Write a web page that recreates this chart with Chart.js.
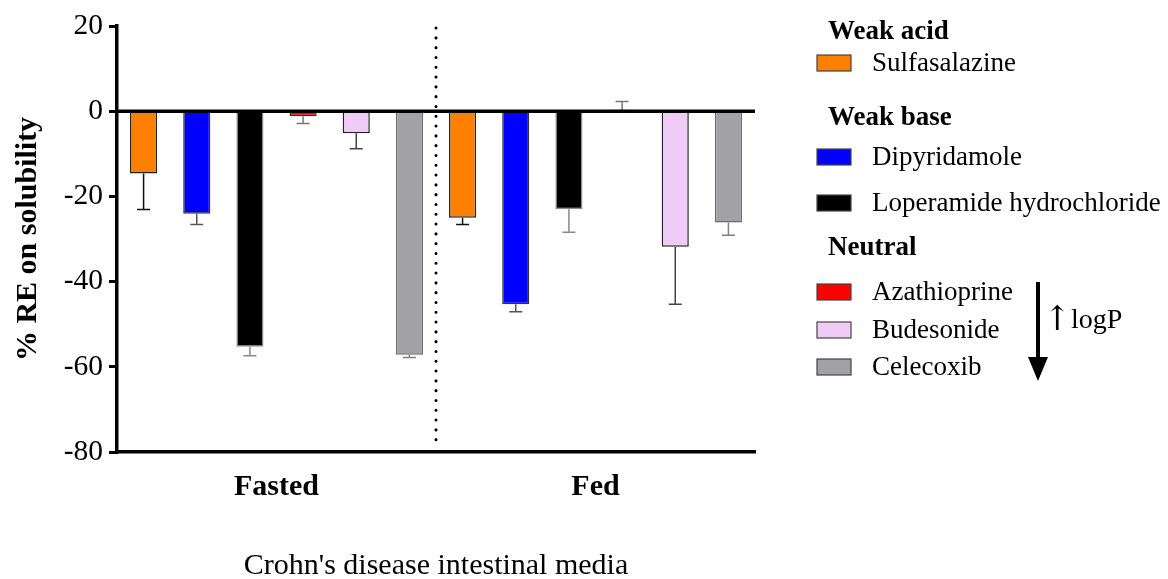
<!DOCTYPE html>
<html>
<head>
<meta charset="utf-8">
<script src="https://cdn.jsdelivr.net/npm/chart.js@4/dist/chart.umd.min.js"></script>
<style>
html,body{margin:0;padding:0;background:#fff;}
#wrap{width:1168px;height:579px;position:relative;}
</style>
</head>
<body>
<div id="wrap"><canvas id="c" width="1168" height="579"></canvas></div>
<script>
// ---- data ----
const categories = ['Fasted', 'Fed'];
const drugs = ['Sulfasalazine', 'Dipyridamole', 'Loperamide hydrochloride', 'Azathioprine', 'Budesonide', 'Celecoxib'];
const sulfasalazine = [-14.6, -25.0];
const dipyridamole  = [-24.1, -45.3];
const loperamide    = [-55.3, -23.0];
const azathioprine  = [-1.2, 0.3];
const budesonide    = [-5.2, -31.8];
const celecoxib     = [-57.2, -26.1];
const sulfasalazineErr = [8.5, 1.6];
const dipyridamoleErr  = [2.5, 1.8];
const loperamideErr    = [2.1, 5.4];
const azathioprineErr  = [1.7, 2.0];
const budesonideErr    = [3.6, 13.5];
const celecoxibErr     = [0.6, 3.0];
const yTicks = [-80, -60, -40, -20, 0, 20];
const groups = [
  {title: 'Weak acid', items: [0]},
  {title: 'Weak base', items: [1, 2]},
  {title: 'Neutral', items: [3, 4, 5]}
];

// ---- styles ----
const fills   = ['#FF8000', '#0000FF', '#000000', '#FF0000', '#EFCCF6', '#A2A1A6'];
const borders = ['#222222', '#333333', '#8a8a8a', '#333333', '#222222', '#6a6a6a'];
const errCols = ['#111111', '#555555', '#888888', '#777777', '#444444', '#808080'];
const values = [sulfasalazine, dipyridamole, loperamide, azathioprine, budesonide, celecoxib];
const errors = [sulfasalazineErr, dipyridamoleErr, loperamideErr, azathioprineErr, budesonideErr, celecoxibErr];

const SERIF = '"Liberation Serif", "Times New Roman", serif';

const datasets = drugs.map((name, i) => ({
  label: name,
  data: values[i],
  errors: errors[i],
  errColor: errCols[i],
  backgroundColor: fills[i],
  borderColor: borders[i],
  borderWidth: 1.5,
  categoryPercentage: 1.0,
  barPercentage: 0.51
}));

const errorBars = {
  id: 'errorBars',
  afterDatasetsDraw(chart) {
    const ctx = chart.ctx, y = chart.scales.y;
    chart.data.datasets.forEach((ds, di) => {
      const meta = chart.getDatasetMeta(di);
      meta.data.forEach((bar, i) => {
        const v = ds.data[i], e = ds.errors[i];
        const end = v >= 0 ? v + e : v - e;
        const y0 = y.getPixelForValue(v), y1 = y.getPixelForValue(end);
        ctx.save();
        ctx.strokeStyle = ds.errColor;
        ctx.lineWidth = 1.5;
        ctx.beginPath();
        ctx.moveTo(bar.x, y0); ctx.lineTo(bar.x, y1);
        ctx.moveTo(bar.x - 6.5, y1); ctx.lineTo(bar.x + 6.5, y1);
        ctx.stroke();
        ctx.restore();
      });
    });
  }
};

const overlay = {
  id: 'overlay',
  afterDatasetsDraw(chart) {
    const ctx = chart.ctx, a = chart.chartArea, x = chart.scales.x, y = chart.scales.y;
    ctx.save();
    // zero line
    const y0 = y.getPixelForValue(0);
    ctx.strokeStyle = '#000'; ctx.lineWidth = 3.5;
    ctx.beginPath(); ctx.moveTo(a.left, y0); ctx.lineTo(a.right, y0); ctx.stroke();
    // dotted separator
    const xm = (x.getPixelForValue(0) + x.getPixelForValue(1)) / 2;
    ctx.lineWidth = 3; ctx.lineCap = 'round';
    ctx.setLineDash([0.1, 9.7]);
    ctx.beginPath(); ctx.moveTo(xm, a.top + 2); ctx.lineTo(xm, a.bottom - 5); ctx.stroke();
    ctx.restore();
  },
  afterDraw(chart) {
    const ctx = chart.ctx;
    ctx.save();
    ctx.fillStyle = '#000';
    ctx.textBaseline = 'middle';
    const titleY = [32, 118, 248];
    const itemY = [[63], [157, 203], [292, 330, 367]];
    groups.forEach((g, gi) => {
      ctx.font = 'bold 27px ' + SERIF;
      ctx.fillStyle = '#000';
      ctx.fillText(g.title, 828, titleY[gi]);
      g.items.forEach((di, k) => {
        const cy = itemY[gi][k];
        ctx.fillStyle = fills[di];
        ctx.fillRect(817, cy - 8, 34, 16);
        ctx.strokeStyle = '#444'; ctx.lineWidth = 1.2;
        ctx.strokeRect(817, cy - 8, 34, 16);
        ctx.fillStyle = '#000';
        ctx.font = '27px ' + SERIF;
        ctx.fillText(drugs[di], 872, cy + 1);
      });
    });
    // logP arrow
    ctx.strokeStyle = '#000'; ctx.lineWidth = 4;
    ctx.beginPath(); ctx.moveTo(1038, 282); ctx.lineTo(1038, 360); ctx.stroke();
    ctx.beginPath(); ctx.moveTo(1028, 357); ctx.lineTo(1048, 357); ctx.lineTo(1038, 381); ctx.closePath(); ctx.fill();
    ctx.font = '34px "DejaVu Serif", serif';
    ctx.fillText('\u2191', 1043, 321);
    ctx.font = '28px ' + SERIF;
    ctx.fillText('logP', 1071, 321);
    ctx.restore();
  }
};

new Chart(document.getElementById('c'), {
  type: 'bar',
  data: { labels: categories, datasets },
  plugins: [errorBars, overlay],
  options: {
    responsive: false,
    animation: false,
    layout: { padding: { left: 0, right: 413, top: 26, bottom: 0 } },
    plugins: { legend: { display: false }, tooltip: { enabled: false } },
    scales: {
      x: {
        offset: true,
        grid: { display: false, drawTicks: false },
        border: { display: true, color: '#000', width: 3.5 },
        ticks: { color: '#000', font: { family: SERIF, size: 30, weight: 'bold' }, padding: 17 },
        title: { display: true, text: "Crohn's disease intestinal media", color: '#000',
                 font: { family: SERIF, size: 30, lineHeight: 1 }, padding: { top: 0, bottom: -2 } },
        afterFit(s) { s.height = 127; }
      },
      y: {
        min: -80, max: 20,
        afterBuildTicks(s) { s.ticks = yTicks.map(v => ({ value: v })); },
        grid: { drawOnChartArea: false, drawTicks: true, tickLength: 8, color: '#000', lineWidth: 3 },
        border: { display: true, color: '#000', width: 3.5 },
        ticks: { color: '#000', font: { family: SERIF, size: 29.5 }, padding: 6, callback: v => String(v) },
        title: { display: true, text: '% RE on solubility', color: '#000',
                 font: { family: SERIF, size: 30, weight: 'bold', lineHeight: 1 }, padding: { top: 13, bottom: 0 } },
        afterFit(s) { s.width = 117; }
      }
    }
  }
});
</script>
</body>
</html>
